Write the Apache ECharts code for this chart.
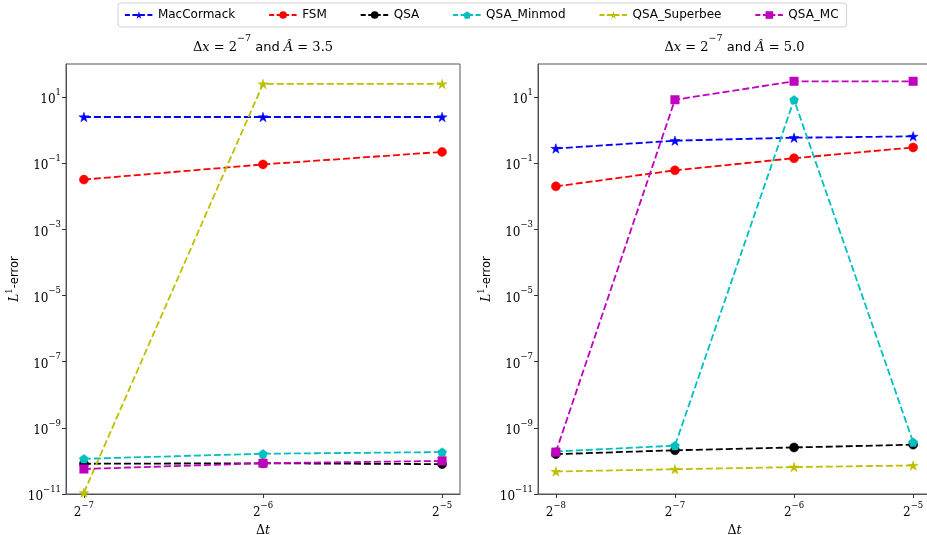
<!DOCTYPE html>
<html>
<head>
<meta charset="utf-8">
<script src="https://cdn.jsdelivr.net/npm/echarts@6/dist/echarts.min.js"></script>
<style>
  html, body { margin: 0; padding: 0; background: #fff; }
  #chart { width: 927px; height: 535px; }
</style>
</head>
<body>
<div id="chart"></div>
<script>
// Time steps Δt used in each panel
const dtLeft = [0.0078125, 0.015625, 0.03125];
const dtRight = [0.00390625, 0.0078125, 0.015625, 0.03125];

const seriesNames = ['MacCormack', 'FSM', 'QSA', 'QSA_Minmod', 'QSA_Superbee', 'QSA_MC'];

// L1 errors: Δx = 2^-7, Â = 3.5
const macCormackLeft = [2.5, 2.5, 2.5];
const fsmLeft = [0.032, 0.092, 0.22];
const qsaLeft = [8.2e-11, 8.5e-11, 8.0e-11];
const minmodLeft = [1.16e-10, 1.65e-10, 1.85e-10];
const superbeeLeft = [1.1e-11, 25, 25];
const mcLeft = [5.7e-11, 8.5e-11, 1.0e-10];

// L1 errors: Δx = 2^-7, Â = 5.0
const macCormackRight = [0.28, 0.48, 0.59, 0.65];
const fsmRight = [0.020, 0.061, 0.142, 0.30];
const qsaRight = [1.6e-10, 2.1e-10, 2.55e-10, 3.1e-10];
const minmodRight = [1.93e-10, 2.9e-10, 8.3, 3.7e-10];
const superbeeRight = [4.8e-11, 5.6e-11, 6.5e-11, 7.3e-11];
const mcRight = [1.85e-10, 8.3, 30, 30];

// Axis ticks
const yTicks = [1e-11, 1e-9, 1e-7, 1e-5, 1e-3, 1e-1, 1e1];
const xTicksLeft = [0.0078125, 0.015625, 0.03125];
const xTicksRight = [0.00390625, 0.0078125, 0.015625, 0.03125];

const panelTitles = ['3.5', '5.0'];

const leftData = [macCormackLeft, fsmLeft, qsaLeft, minmodLeft, superbeeLeft, mcLeft];
const rightData = [macCormackRight, fsmRight, qsaRight, minmodRight, superbeeRight, mcRight];

const colors = ['#0000ff', '#ff0000', '#000000', '#00bfbf', '#bfbf00', '#bf00bf'];
const starPath = 'path://M50 0L61.23 34.55L97.55 34.55L68.17 55.9L79.39 90.45L50 69.1L20.61 90.45L31.83 55.9L2.45 34.55L38.77 34.55Z';
const pentagonPath = 'path://M50 0L97.55 34.55L79.39 90.45L20.61 90.45L2.45 34.55Z';
const symbols = [starPath, 'circle', 'circle', pentagonPath, starPath, 'rect'];
const symbolSizes = [10, 9, 9, 9, 10, 8.5];

const SERIF = 'DejaVu Serif';
const SANS = 'DejaVu Sans';
const MINUS = '\u2212';

const powRich = {
  b: { fontFamily: SERIF, fontSize: 12, color: '#000', lineHeight: 18, verticalAlign: 'bottom' },
  s: { fontFamily: SERIF, fontSize: 8.5, color: '#000', lineHeight: 8, verticalAlign: 'top' }
};

function expLabel(base, value, logFn) {
  const e = Math.round(logFn(value));
  const txt = e < 0 ? MINUS + Math.abs(e) : String(e);
  return '{b|' + base + '}{s|' + txt + '}';
}

const grids = [
  { left: 66, top: 64, width: 394, height: 430 },
  { left: 538, top: 64, width: 393, height: 430 }
];
const xRanges = [[Math.pow(2, -7.1), Math.pow(2, -4.9)], [Math.pow(2, -8.15), Math.pow(2, -4.85)]];
const xTickSets = [xTicksLeft, xTicksRight];

const axisLineStyle = { show: true, lineStyle: { color: '#555', width: 1 } };
const tickStyle = { show: true, inside: false, length: 4, lineStyle: { color: '#333', width: 1 } };

const xAxes = grids.map((g, i) => ({
  type: 'log',
  logBase: 2,
  gridIndex: i,
  min: xRanges[i][0],
  max: xRanges[i][1],
  axisLine: axisLineStyle,
  axisTick: Object.assign({}, tickStyle, { customValues: xTickSets[i] }),
  axisLabel: {
    customValues: xTickSets[i],
    margin: 7,
    formatter: v => expLabel('2', v, Math.log2),
    rich: powRich
  },
  splitLine: { show: false },
  minorTick: { show: false },
  name: '{d|Δ}{t|t}',
  nameLocation: 'middle',
  nameGap: 26,
  nameTextStyle: {
    rich: {
      d: { fontFamily: SERIF, fontSize: 12.5, color: '#000' },
      t: { fontFamily: SERIF, fontStyle: 'italic', fontSize: 12.5, color: '#000' }
    }
  }
}));

const yAxes = grids.map((g, i) => ({
  type: 'log',
  logBase: 10,
  gridIndex: i,
  min: 1e-11,
  max: 1e2,
  axisLine: axisLineStyle,
  axisTick: Object.assign({}, tickStyle, { customValues: yTicks }),
  axisLabel: {
    customValues: yTicks,
    margin: 5,
    formatter: v => expLabel('10', v, Math.log10),
    rich: powRich
  },
  splitLine: { show: false },
  minorTick: { show: false },
  name: '{l|L}{s|1}{e|-error}',
  nameLocation: 'middle',
  nameGap: 45,
  nameTextStyle: {
    rich: {
      l: { fontFamily: SERIF, fontStyle: 'italic', fontSize: 12, color: '#000', lineHeight: 16, verticalAlign: 'bottom' },
      s: { fontFamily: SERIF, fontSize: 8.5, color: '#000', lineHeight: 8, verticalAlign: 'top' },
      e: { fontFamily: SANS, fontSize: 11.5, color: '#000', lineHeight: 16, verticalAlign: 'bottom' }
    }
  }
}));

const titleRich = {
  m: { fontFamily: SERIF, fontWeight: 'normal', fontSize: 13, color: '#000', lineHeight: 20, verticalAlign: 'bottom' },
  i: { fontFamily: SERIF, fontWeight: 'normal', fontStyle: 'italic', fontSize: 13, color: '#000', lineHeight: 20, verticalAlign: 'bottom' },
  s: { fontFamily: SERIF, fontWeight: 'normal', fontSize: 9.5, color: '#000', lineHeight: 10, verticalAlign: 'top' },
  a: { fontFamily: SANS, fontWeight: 'normal', fontSize: 13, color: '#000', lineHeight: 20, verticalAlign: 'bottom' }
};

const titles = grids.map((g, i) => ({
  text: '{m|Δ}{i|x}{m| = 2}{s|' + MINUS + '7}{a| and }{i|Â}{m| = ' + panelTitles[i] + '}',
  left: g.left + g.width / 2,
  top: 34,
  textAlign: 'center',
  padding: 0,
  textStyle: { fontWeight: 'normal', rich: titleRich }
}));

const series = [];
[leftData, rightData].forEach((panel, gi) => {
  const xs = gi === 0 ? dtLeft : dtRight;
  panel.forEach((ys, k) => {
    series.push({
      name: seriesNames[k],
      type: 'line',
      xAxisIndex: gi,
      yAxisIndex: gi,
      data: xs.map((x, j) => [x, ys[j]]),
      symbol: symbols[k],
      symbolSize: symbolSizes[k],
      symbolKeepAspect: true,
      showAllSymbol: true,
      clip: false,
      z: 2 + k,
      lineStyle: { color: colors[k], width: 1.8, type: [7, 3] },
      itemStyle: { color: colors[k], borderColor: colors[k], borderWidth: 0.5 },
      emphasis: { disabled: true }
    });
  });
});

const chart = echarts.init(document.getElementById('chart'), null, { renderer: 'canvas' });
chart.setOption({
  animation: false,
  backgroundColor: '#fff',
  title: titles,
  legend: {
    data: seriesNames,
    left: 118,
    top: 3,
    itemWidth: 28,
    itemHeight: 9.5,
    itemGap: 33,
    padding: [6, 8, 6, 6],
    borderColor: '#d0d0d0',
    borderWidth: 1,
    borderRadius: 3,
    backgroundColor: '#fff',
    lineStyle: { type: [5, 2.5], width: 1.8 },
    itemStyle: { borderWidth: 0 },
    textStyle: { fontFamily: SANS, fontSize: 12, color: '#000' },
    selectedMode: false
  },
  grid: grids.map(g => Object.assign({
    show: true, borderColor: '#555', borderWidth: 1, backgroundColor: 'transparent',
    containLabel: false, outerBoundsMode: 'none'
  }, g)),
  xAxis: xAxes,
  yAxis: yAxes,
  series: series
});
</script>
</body>
</html>
